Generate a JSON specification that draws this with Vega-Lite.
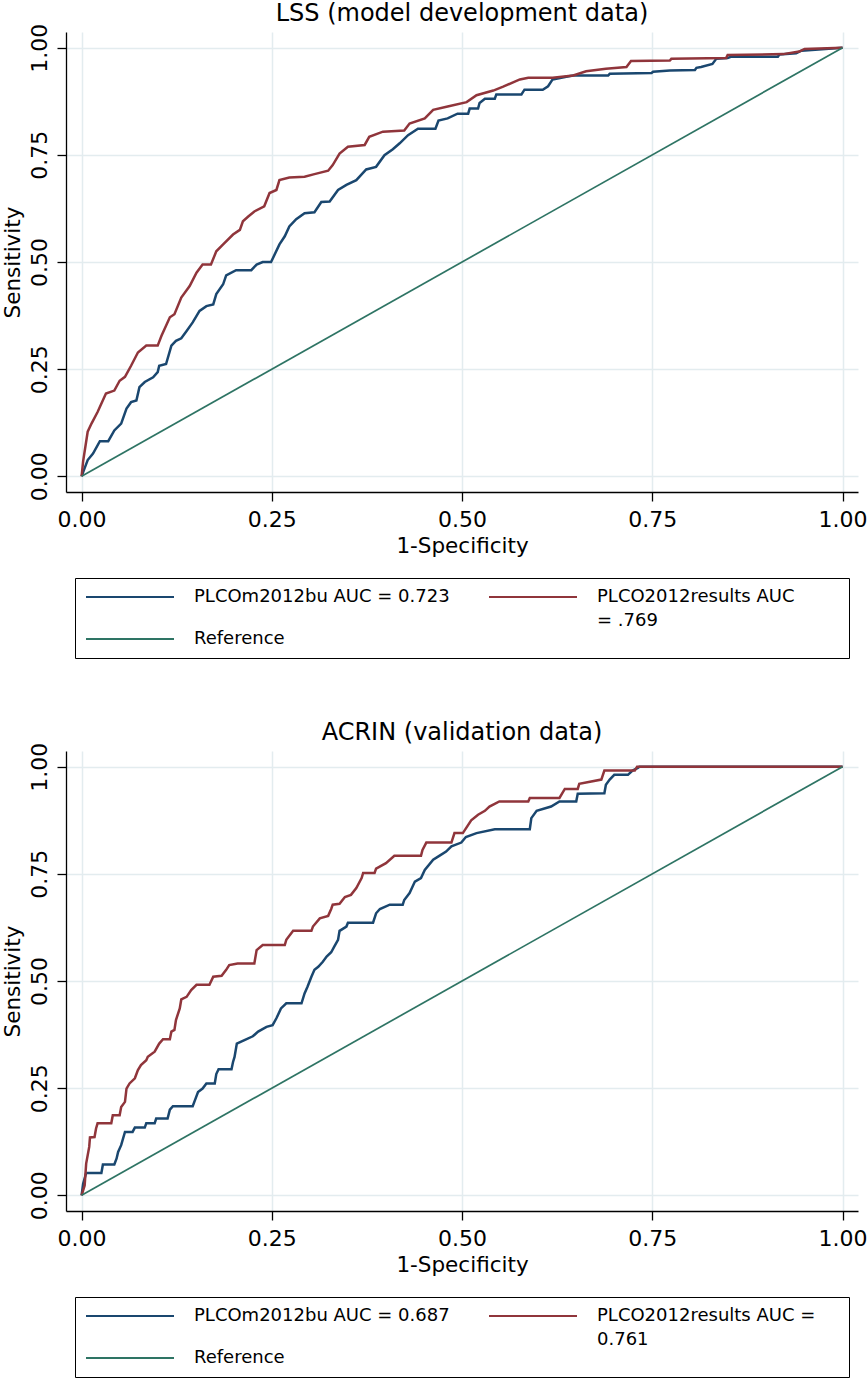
{
"$schema": "https://vega.github.io/schema/vega-lite/v6.json",
"padding": {"left": 2, "top": 2, "right": 5, "bottom": 0},
"spacing": 62,
"config": {
  "font": "DejaVu Sans",
  "view": {"stroke": null},
  "title": {"font": "DejaVu Sans", "fontSize": 24, "fontWeight": "normal", "color": "black", "anchor": "middle", "frame": "group", "offset": -3},
  "axis": {"labelFont": "DejaVu Sans", "labelFontSize": 22, "labelColor": "black", "titleFont": "DejaVu Sans", "titleFontSize": 21.5, "titleFontWeight": "normal", "titleColor": "black", "domainColor": "black", "domainWidth": 1.3, "tickColor": "black", "tickWidth": 1.3, "tickSize": 9, "gridColor": "#e3ecef", "gridWidth": 1.5, "labelPadding": 8, "titlePadding": 5},
  "axisY": {"labelAngle": -90, "labelAlign": "center", "labelBaseline": "bottom", "labelPadding": 6, "titlePadding": 4}
},
"resolve": {"scale": {"color": "independent"}, "legend": {"color": "independent"}},
"datasets": {
"lss": [
{"m":"PLCOm2012bu AUC = 0.723","x":0,"y":0},{"m":"PLCOm2012bu AUC = 0.723","x":0.004,"y":0.019},{"m":"PLCOm2012bu AUC = 0.723","x":0.008,"y":0.038},{"m":"PLCOm2012bu AUC = 0.723","x":0.015,"y":0.053},{"m":"PLCOm2012bu AUC = 0.723","x":0.024,"y":0.082},{"m":"PLCOm2012bu AUC = 0.723","x":0.035,"y":0.082},{"m":"PLCOm2012bu AUC = 0.723","x":0.043,"y":0.107},{"m":"PLCOm2012bu AUC = 0.723","x":0.052,"y":0.123},{"m":"PLCOm2012bu AUC = 0.723","x":0.059,"y":0.158},{"m":"PLCOm2012bu AUC = 0.723","x":0.065,"y":0.173},{"m":"PLCOm2012bu AUC = 0.723","x":0.072,"y":0.177},{"m":"PLCOm2012bu AUC = 0.723","x":0.076,"y":0.208},{"m":"PLCOm2012bu AUC = 0.723","x":0.083,"y":0.22},{"m":"PLCOm2012bu AUC = 0.723","x":0.094,"y":0.231},{"m":"PLCOm2012bu AUC = 0.723","x":0.1,"y":0.243},{"m":"PLCOm2012bu AUC = 0.723","x":0.102,"y":0.258},{"m":"PLCOm2012bu AUC = 0.723","x":0.111,"y":0.262},{"m":"PLCOm2012bu AUC = 0.723","x":0.118,"y":0.305},{"m":"PLCOm2012bu AUC = 0.723","x":0.124,"y":0.316},{"m":"PLCOm2012bu AUC = 0.723","x":0.131,"y":0.322},{"m":"PLCOm2012bu AUC = 0.723","x":0.138,"y":0.339},{"m":"PLCOm2012bu AUC = 0.723","x":0.146,"y":0.359},{"m":"PLCOm2012bu AUC = 0.723","x":0.155,"y":0.386},{"m":"PLCOm2012bu AUC = 0.723","x":0.164,"y":0.397},{"m":"PLCOm2012bu AUC = 0.723","x":0.173,"y":0.401},{"m":"PLCOm2012bu AUC = 0.723","x":0.177,"y":0.425},{"m":"PLCOm2012bu AUC = 0.723","x":0.186,"y":0.448},{"m":"PLCOm2012bu AUC = 0.723","x":0.19,"y":0.469},{"m":"PLCOm2012bu AUC = 0.723","x":0.203,"y":0.481},{"m":"PLCOm2012bu AUC = 0.723","x":0.223,"y":0.481},{"m":"PLCOm2012bu AUC = 0.723","x":0.23,"y":0.494},{"m":"PLCOm2012bu AUC = 0.723","x":0.238,"y":0.5},{"m":"PLCOm2012bu AUC = 0.723","x":0.249,"y":0.5},{"m":"PLCOm2012bu AUC = 0.723","x":0.26,"y":0.541},{"m":"PLCOm2012bu AUC = 0.723","x":0.267,"y":0.56},{"m":"PLCOm2012bu AUC = 0.723","x":0.273,"y":0.583},{"m":"PLCOm2012bu AUC = 0.723","x":0.282,"y":0.6},{"m":"PLCOm2012bu AUC = 0.723","x":0.293,"y":0.614},{"m":"PLCOm2012bu AUC = 0.723","x":0.306,"y":0.616},{"m":"PLCOm2012bu AUC = 0.723","x":0.315,"y":0.64},{"m":"PLCOm2012bu AUC = 0.723","x":0.326,"y":0.641},{"m":"PLCOm2012bu AUC = 0.723","x":0.337,"y":0.668},{"m":"PLCOm2012bu AUC = 0.723","x":0.348,"y":0.68},{"m":"PLCOm2012bu AUC = 0.723","x":0.361,"y":0.691},{"m":"PLCOm2012bu AUC = 0.723","x":0.374,"y":0.716},{"m":"PLCOm2012bu AUC = 0.723","x":0.387,"y":0.722},{"m":"PLCOm2012bu AUC = 0.723","x":0.398,"y":0.749},{"m":"PLCOm2012bu AUC = 0.723","x":0.409,"y":0.763},{"m":"PLCOm2012bu AUC = 0.723","x":0.418,"y":0.777},{"m":"PLCOm2012bu AUC = 0.723","x":0.429,"y":0.796},{"m":"PLCOm2012bu AUC = 0.723","x":0.442,"y":0.811},{"m":"PLCOm2012bu AUC = 0.723","x":0.465,"y":0.811},{"m":"PLCOm2012bu AUC = 0.723","x":0.469,"y":0.83},{"m":"PLCOm2012bu AUC = 0.723","x":0.481,"y":0.835},{"m":"PLCOm2012bu AUC = 0.723","x":0.494,"y":0.846},{"m":"PLCOm2012bu AUC = 0.723","x":0.508,"y":0.846},{"m":"PLCOm2012bu AUC = 0.723","x":0.51,"y":0.858},{"m":"PLCOm2012bu AUC = 0.723","x":0.521,"y":0.858},{"m":"PLCOm2012bu AUC = 0.723","x":0.523,"y":0.871},{"m":"PLCOm2012bu AUC = 0.723","x":0.53,"y":0.881},{"m":"PLCOm2012bu AUC = 0.723","x":0.543,"y":0.881},{"m":"PLCOm2012bu AUC = 0.723","x":0.545,"y":0.891},{"m":"PLCOm2012bu AUC = 0.723","x":0.578,"y":0.891},{"m":"PLCOm2012bu AUC = 0.723","x":0.582,"y":0.902},{"m":"PLCOm2012bu AUC = 0.723","x":0.606,"y":0.902},{"m":"PLCOm2012bu AUC = 0.723","x":0.613,"y":0.91},{"m":"PLCOm2012bu AUC = 0.723","x":0.619,"y":0.926},{"m":"PLCOm2012bu AUC = 0.723","x":0.637,"y":0.932},{"m":"PLCOm2012bu AUC = 0.723","x":0.646,"y":0.935},{"m":"PLCOm2012bu AUC = 0.723","x":0.692,"y":0.935},{"m":"PLCOm2012bu AUC = 0.723","x":0.694,"y":0.939},{"m":"PLCOm2012bu AUC = 0.723","x":0.749,"y":0.941},{"m":"PLCOm2012bu AUC = 0.723","x":0.751,"y":0.944},{"m":"PLCOm2012bu AUC = 0.723","x":0.773,"y":0.947},{"m":"PLCOm2012bu AUC = 0.723","x":0.806,"y":0.948},{"m":"PLCOm2012bu AUC = 0.723","x":0.808,"y":0.953},{"m":"PLCOm2012bu AUC = 0.723","x":0.814,"y":0.955},{"m":"PLCOm2012bu AUC = 0.723","x":0.829,"y":0.962},{"m":"PLCOm2012bu AUC = 0.723","x":0.834,"y":0.974},{"m":"PLCOm2012bu AUC = 0.723","x":0.849,"y":0.976},{"m":"PLCOm2012bu AUC = 0.723","x":0.854,"y":0.979},{"m":"PLCOm2012bu AUC = 0.723","x":0.915,"y":0.979},{"m":"PLCOm2012bu AUC = 0.723","x":0.917,"y":0.984},{"m":"PLCOm2012bu AUC = 0.723","x":0.939,"y":0.987},{"m":"PLCOm2012bu AUC = 0.723","x":0.946,"y":0.993},{"m":"PLCOm2012bu AUC = 0.723","x":1,"y":1},
{"m":"PLCO2012results AUC = .769","x":0,"y":0},{"m":"PLCO2012results AUC = .769","x":0.002,"y":0.035},{"m":"PLCO2012results AUC = .769","x":0.008,"y":0.104},{"m":"PLCO2012results AUC = .769","x":0.013,"y":0.123},{"m":"PLCO2012results AUC = .769","x":0.021,"y":0.15},{"m":"PLCO2012results AUC = .769","x":0.032,"y":0.193},{"m":"PLCO2012results AUC = .769","x":0.043,"y":0.2},{"m":"PLCO2012results AUC = .769","x":0.05,"y":0.223},{"m":"PLCO2012results AUC = .769","x":0.057,"y":0.232},{"m":"PLCO2012results AUC = .769","x":0.065,"y":0.258},{"m":"PLCO2012results AUC = .769","x":0.074,"y":0.289},{"m":"PLCO2012results AUC = .769","x":0.085,"y":0.305},{"m":"PLCO2012results AUC = .769","x":0.1,"y":0.305},{"m":"PLCO2012results AUC = .769","x":0.105,"y":0.328},{"m":"PLCO2012results AUC = .769","x":0.116,"y":0.371},{"m":"PLCO2012results AUC = .769","x":0.122,"y":0.378},{"m":"PLCO2012results AUC = .769","x":0.131,"y":0.417},{"m":"PLCO2012results AUC = .769","x":0.142,"y":0.444},{"m":"PLCO2012results AUC = .769","x":0.151,"y":0.475},{"m":"PLCO2012results AUC = .769","x":0.159,"y":0.494},{"m":"PLCO2012results AUC = .769","x":0.17,"y":0.494},{"m":"PLCO2012results AUC = .769","x":0.177,"y":0.525},{"m":"PLCO2012results AUC = .769","x":0.186,"y":0.541},{"m":"PLCO2012results AUC = .769","x":0.199,"y":0.564},{"m":"PLCO2012results AUC = .769","x":0.208,"y":0.575},{"m":"PLCO2012results AUC = .769","x":0.212,"y":0.595},{"m":"PLCO2012results AUC = .769","x":0.219,"y":0.606},{"m":"PLCO2012results AUC = .769","x":0.227,"y":0.618},{"m":"PLCO2012results AUC = .769","x":0.24,"y":0.63},{"m":"PLCO2012results AUC = .769","x":0.247,"y":0.661},{"m":"PLCO2012results AUC = .769","x":0.256,"y":0.668},{"m":"PLCO2012results AUC = .769","x":0.26,"y":0.691},{"m":"PLCO2012results AUC = .769","x":0.273,"y":0.697},{"m":"PLCO2012results AUC = .769","x":0.293,"y":0.699},{"m":"PLCO2012results AUC = .769","x":0.306,"y":0.705},{"m":"PLCO2012results AUC = .769","x":0.324,"y":0.713},{"m":"PLCO2012results AUC = .769","x":0.33,"y":0.726},{"m":"PLCO2012results AUC = .769","x":0.339,"y":0.753},{"m":"PLCO2012results AUC = .769","x":0.35,"y":0.769},{"m":"PLCO2012results AUC = .769","x":0.372,"y":0.773},{"m":"PLCO2012results AUC = .769","x":0.378,"y":0.792},{"m":"PLCO2012results AUC = .769","x":0.396,"y":0.804},{"m":"PLCO2012results AUC = .769","x":0.424,"y":0.807},{"m":"PLCO2012results AUC = .769","x":0.431,"y":0.823},{"m":"PLCO2012results AUC = .769","x":0.451,"y":0.835},{"m":"PLCO2012results AUC = .769","x":0.462,"y":0.855},{"m":"PLCO2012results AUC = .769","x":0.481,"y":0.863},{"m":"PLCO2012results AUC = .769","x":0.506,"y":0.873},{"m":"PLCO2012results AUC = .769","x":0.519,"y":0.889},{"m":"PLCO2012results AUC = .769","x":0.541,"y":0.9},{"m":"PLCO2012results AUC = .769","x":0.554,"y":0.909},{"m":"PLCO2012results AUC = .769","x":0.567,"y":0.919},{"m":"PLCO2012results AUC = .769","x":0.576,"y":0.926},{"m":"PLCO2012results AUC = .769","x":0.587,"y":0.93},{"m":"PLCO2012results AUC = .769","x":0.619,"y":0.93},{"m":"PLCO2012results AUC = .769","x":0.646,"y":0.935},{"m":"PLCO2012results AUC = .769","x":0.663,"y":0.945},{"m":"PLCO2012results AUC = .769","x":0.689,"y":0.951},{"m":"PLCO2012results AUC = .769","x":0.716,"y":0.955},{"m":"PLCO2012results AUC = .769","x":0.722,"y":0.969},{"m":"PLCO2012results AUC = .769","x":0.773,"y":0.97},{"m":"PLCO2012results AUC = .769","x":0.775,"y":0.974},{"m":"PLCO2012results AUC = .769","x":0.847,"y":0.976},{"m":"PLCO2012results AUC = .769","x":0.849,"y":0.983},{"m":"PLCO2012results AUC = .769","x":0.922,"y":0.985},{"m":"PLCO2012results AUC = .769","x":0.943,"y":0.991},{"m":"PLCO2012results AUC = .769","x":0.95,"y":0.997},{"m":"PLCO2012results AUC = .769","x":1,"y":1},
{"m":"Reference","x":0,"y":0},{"m":"Reference","x":1,"y":1}
],
"acrin": [
{"m":"PLCOm2012bu AUC = 0.687","x":0,"y":0},{"m":"PLCOm2012bu AUC = 0.687","x":0.002,"y":0.027},{"m":"PLCOm2012bu AUC = 0.687","x":0.006,"y":0.052},{"m":"PLCOm2012bu AUC = 0.687","x":0.026,"y":0.052},{"m":"PLCOm2012bu AUC = 0.687","x":0.028,"y":0.072},{"m":"PLCOm2012bu AUC = 0.687","x":0.043,"y":0.072},{"m":"PLCOm2012bu AUC = 0.687","x":0.046,"y":0.086},{"m":"PLCOm2012bu AUC = 0.687","x":0.048,"y":0.101},{"m":"PLCOm2012bu AUC = 0.687","x":0.052,"y":0.117},{"m":"PLCOm2012bu AUC = 0.687","x":0.057,"y":0.148},{"m":"PLCOm2012bu AUC = 0.687","x":0.067,"y":0.148},{"m":"PLCOm2012bu AUC = 0.687","x":0.07,"y":0.158},{"m":"PLCOm2012bu AUC = 0.687","x":0.083,"y":0.158},{"m":"PLCOm2012bu AUC = 0.687","x":0.085,"y":0.168},{"m":"PLCOm2012bu AUC = 0.687","x":0.096,"y":0.168},{"m":"PLCOm2012bu AUC = 0.687","x":0.098,"y":0.179},{"m":"PLCOm2012bu AUC = 0.687","x":0.113,"y":0.179},{"m":"PLCOm2012bu AUC = 0.687","x":0.116,"y":0.2},{"m":"PLCOm2012bu AUC = 0.687","x":0.12,"y":0.208},{"m":"PLCOm2012bu AUC = 0.687","x":0.146,"y":0.208},{"m":"PLCOm2012bu AUC = 0.687","x":0.149,"y":0.222},{"m":"PLCOm2012bu AUC = 0.687","x":0.153,"y":0.241},{"m":"PLCOm2012bu AUC = 0.687","x":0.159,"y":0.249},{"m":"PLCOm2012bu AUC = 0.687","x":0.164,"y":0.261},{"m":"PLCOm2012bu AUC = 0.687","x":0.175,"y":0.261},{"m":"PLCOm2012bu AUC = 0.687","x":0.177,"y":0.283},{"m":"PLCOm2012bu AUC = 0.687","x":0.18,"y":0.294},{"m":"PLCOm2012bu AUC = 0.687","x":0.197,"y":0.294},{"m":"PLCOm2012bu AUC = 0.687","x":0.199,"y":0.311},{"m":"PLCOm2012bu AUC = 0.687","x":0.201,"y":0.323},{"m":"PLCOm2012bu AUC = 0.687","x":0.204,"y":0.354},{"m":"PLCOm2012bu AUC = 0.687","x":0.214,"y":0.362},{"m":"PLCOm2012bu AUC = 0.687","x":0.225,"y":0.371},{"m":"PLCOm2012bu AUC = 0.687","x":0.232,"y":0.382},{"m":"PLCOm2012bu AUC = 0.687","x":0.243,"y":0.393},{"m":"PLCOm2012bu AUC = 0.687","x":0.251,"y":0.397},{"m":"PLCOm2012bu AUC = 0.687","x":0.256,"y":0.413},{"m":"PLCOm2012bu AUC = 0.687","x":0.262,"y":0.436},{"m":"PLCOm2012bu AUC = 0.687","x":0.269,"y":0.448},{"m":"PLCOm2012bu AUC = 0.687","x":0.289,"y":0.448},{"m":"PLCOm2012bu AUC = 0.687","x":0.293,"y":0.471},{"m":"PLCOm2012bu AUC = 0.687","x":0.297,"y":0.487},{"m":"PLCOm2012bu AUC = 0.687","x":0.302,"y":0.51},{"m":"PLCOm2012bu AUC = 0.687","x":0.306,"y":0.526},{"m":"PLCOm2012bu AUC = 0.687","x":0.311,"y":0.533},{"m":"PLCOm2012bu AUC = 0.687","x":0.317,"y":0.545},{"m":"PLCOm2012bu AUC = 0.687","x":0.322,"y":0.557},{"m":"PLCOm2012bu AUC = 0.687","x":0.328,"y":0.567},{"m":"PLCOm2012bu AUC = 0.687","x":0.332,"y":0.58},{"m":"PLCOm2012bu AUC = 0.687","x":0.337,"y":0.596},{"m":"PLCOm2012bu AUC = 0.687","x":0.339,"y":0.617},{"m":"PLCOm2012bu AUC = 0.687","x":0.348,"y":0.627},{"m":"PLCOm2012bu AUC = 0.687","x":0.35,"y":0.636},{"m":"PLCOm2012bu AUC = 0.687","x":0.383,"y":0.636},{"m":"PLCOm2012bu AUC = 0.687","x":0.387,"y":0.658},{"m":"PLCOm2012bu AUC = 0.687","x":0.392,"y":0.668},{"m":"PLCOm2012bu AUC = 0.687","x":0.405,"y":0.678},{"m":"PLCOm2012bu AUC = 0.687","x":0.422,"y":0.678},{"m":"PLCOm2012bu AUC = 0.687","x":0.424,"y":0.689},{"m":"PLCOm2012bu AUC = 0.687","x":0.431,"y":0.705},{"m":"PLCOm2012bu AUC = 0.687","x":0.438,"y":0.732},{"m":"PLCOm2012bu AUC = 0.687","x":0.446,"y":0.74},{"m":"PLCOm2012bu AUC = 0.687","x":0.451,"y":0.759},{"m":"PLCOm2012bu AUC = 0.687","x":0.462,"y":0.783},{"m":"PLCOm2012bu AUC = 0.687","x":0.47,"y":0.792},{"m":"PLCOm2012bu AUC = 0.687","x":0.479,"y":0.802},{"m":"PLCOm2012bu AUC = 0.687","x":0.486,"y":0.814},{"m":"PLCOm2012bu AUC = 0.687","x":0.499,"y":0.823},{"m":"PLCOm2012bu AUC = 0.687","x":0.505,"y":0.836},{"m":"PLCOm2012bu AUC = 0.687","x":0.519,"y":0.845},{"m":"PLCOm2012bu AUC = 0.687","x":0.543,"y":0.854},{"m":"PLCOm2012bu AUC = 0.687","x":0.589,"y":0.854},{"m":"PLCOm2012bu AUC = 0.687","x":0.591,"y":0.88},{"m":"PLCOm2012bu AUC = 0.687","x":0.598,"y":0.897},{"m":"PLCOm2012bu AUC = 0.687","x":0.617,"y":0.907},{"m":"PLCOm2012bu AUC = 0.687","x":0.628,"y":0.919},{"m":"PLCOm2012bu AUC = 0.687","x":0.65,"y":0.919},{"m":"PLCOm2012bu AUC = 0.687","x":0.652,"y":0.937},{"m":"PLCOm2012bu AUC = 0.687","x":0.687,"y":0.938},{"m":"PLCOm2012bu AUC = 0.687","x":0.689,"y":0.958},{"m":"PLCOm2012bu AUC = 0.687","x":0.694,"y":0.97},{"m":"PLCOm2012bu AUC = 0.687","x":0.7,"y":0.981},{"m":"PLCOm2012bu AUC = 0.687","x":0.718,"y":0.981},{"m":"PLCOm2012bu AUC = 0.687","x":0.724,"y":0.991},{"m":"PLCOm2012bu AUC = 0.687","x":0.731,"y":0.997},{"m":"PLCOm2012bu AUC = 0.687","x":0.733,"y":1},{"m":"PLCOm2012bu AUC = 0.687","x":1,"y":1},
{"m":"PLCO2012results AUC = 0.761","x":0,"y":0},{"m":"PLCO2012results AUC = 0.761","x":0.004,"y":0.023},{"m":"PLCO2012results AUC = 0.761","x":0.006,"y":0.074},{"m":"PLCO2012results AUC = 0.761","x":0.01,"y":0.113},{"m":"PLCO2012results AUC = 0.761","x":0.011,"y":0.135},{"m":"PLCO2012results AUC = 0.761","x":0.017,"y":0.136},{"m":"PLCO2012results AUC = 0.761","x":0.019,"y":0.156},{"m":"PLCO2012results AUC = 0.761","x":0.021,"y":0.168},{"m":"PLCO2012results AUC = 0.761","x":0.039,"y":0.168},{"m":"PLCO2012results AUC = 0.761","x":0.041,"y":0.187},{"m":"PLCO2012results AUC = 0.761","x":0.05,"y":0.187},{"m":"PLCO2012results AUC = 0.761","x":0.052,"y":0.206},{"m":"PLCO2012results AUC = 0.761","x":0.057,"y":0.218},{"m":"PLCO2012results AUC = 0.761","x":0.059,"y":0.249},{"m":"PLCO2012results AUC = 0.761","x":0.063,"y":0.261},{"m":"PLCO2012results AUC = 0.761","x":0.07,"y":0.273},{"m":"PLCO2012results AUC = 0.761","x":0.074,"y":0.292},{"m":"PLCO2012results AUC = 0.761","x":0.078,"y":0.304},{"m":"PLCO2012results AUC = 0.761","x":0.085,"y":0.315},{"m":"PLCO2012results AUC = 0.761","x":0.087,"y":0.323},{"m":"PLCO2012results AUC = 0.761","x":0.096,"y":0.335},{"m":"PLCO2012results AUC = 0.761","x":0.102,"y":0.354},{"m":"PLCO2012results AUC = 0.761","x":0.107,"y":0.364},{"m":"PLCO2012results AUC = 0.761","x":0.116,"y":0.364},{"m":"PLCO2012results AUC = 0.761","x":0.118,"y":0.382},{"m":"PLCO2012results AUC = 0.761","x":0.122,"y":0.386},{"m":"PLCO2012results AUC = 0.761","x":0.124,"y":0.409},{"m":"PLCO2012results AUC = 0.761","x":0.129,"y":0.436},{"m":"PLCO2012results AUC = 0.761","x":0.131,"y":0.457},{"m":"PLCO2012results AUC = 0.761","x":0.138,"y":0.463},{"m":"PLCO2012results AUC = 0.761","x":0.144,"y":0.479},{"m":"PLCO2012results AUC = 0.761","x":0.151,"y":0.491},{"m":"PLCO2012results AUC = 0.761","x":0.168,"y":0.491},{"m":"PLCO2012results AUC = 0.761","x":0.173,"y":0.51},{"m":"PLCO2012results AUC = 0.761","x":0.184,"y":0.512},{"m":"PLCO2012results AUC = 0.761","x":0.19,"y":0.526},{"m":"PLCO2012results AUC = 0.761","x":0.194,"y":0.537},{"m":"PLCO2012results AUC = 0.761","x":0.205,"y":0.541},{"m":"PLCO2012results AUC = 0.761","x":0.227,"y":0.541},{"m":"PLCO2012results AUC = 0.761","x":0.23,"y":0.572},{"m":"PLCO2012results AUC = 0.761","x":0.238,"y":0.584},{"m":"PLCO2012results AUC = 0.761","x":0.267,"y":0.584},{"m":"PLCO2012results AUC = 0.761","x":0.269,"y":0.596},{"m":"PLCO2012results AUC = 0.761","x":0.278,"y":0.617},{"m":"PLCO2012results AUC = 0.761","x":0.302,"y":0.617},{"m":"PLCO2012results AUC = 0.761","x":0.304,"y":0.627},{"m":"PLCO2012results AUC = 0.761","x":0.313,"y":0.646},{"m":"PLCO2012results AUC = 0.761","x":0.324,"y":0.652},{"m":"PLCO2012results AUC = 0.761","x":0.328,"y":0.668},{"m":"PLCO2012results AUC = 0.761","x":0.33,"y":0.678},{"m":"PLCO2012results AUC = 0.761","x":0.339,"y":0.68},{"m":"PLCO2012results AUC = 0.761","x":0.346,"y":0.696},{"m":"PLCO2012results AUC = 0.761","x":0.354,"y":0.701},{"m":"PLCO2012results AUC = 0.761","x":0.361,"y":0.717},{"m":"PLCO2012results AUC = 0.761","x":0.368,"y":0.74},{"m":"PLCO2012results AUC = 0.761","x":0.37,"y":0.752},{"m":"PLCO2012results AUC = 0.761","x":0.385,"y":0.752},{"m":"PLCO2012results AUC = 0.761","x":0.387,"y":0.762},{"m":"PLCO2012results AUC = 0.761","x":0.4,"y":0.775},{"m":"PLCO2012results AUC = 0.761","x":0.411,"y":0.792},{"m":"PLCO2012results AUC = 0.761","x":0.446,"y":0.792},{"m":"PLCO2012results AUC = 0.761","x":0.448,"y":0.806},{"m":"PLCO2012results AUC = 0.761","x":0.453,"y":0.823},{"m":"PLCO2012results AUC = 0.761","x":0.486,"y":0.823},{"m":"PLCO2012results AUC = 0.761","x":0.49,"y":0.845},{"m":"PLCO2012results AUC = 0.761","x":0.501,"y":0.845},{"m":"PLCO2012results AUC = 0.761","x":0.512,"y":0.875},{"m":"PLCO2012results AUC = 0.761","x":0.521,"y":0.888},{"m":"PLCO2012results AUC = 0.761","x":0.53,"y":0.897},{"m":"PLCO2012results AUC = 0.761","x":0.536,"y":0.907},{"m":"PLCO2012results AUC = 0.761","x":0.549,"y":0.919},{"m":"PLCO2012results AUC = 0.761","x":0.587,"y":0.919},{"m":"PLCO2012results AUC = 0.761","x":0.589,"y":0.927},{"m":"PLCO2012results AUC = 0.761","x":0.628,"y":0.927},{"m":"PLCO2012results AUC = 0.761","x":0.635,"y":0.948},{"m":"PLCO2012results AUC = 0.761","x":0.652,"y":0.948},{"m":"PLCO2012results AUC = 0.761","x":0.654,"y":0.96},{"m":"PLCO2012results AUC = 0.761","x":0.683,"y":0.97},{"m":"PLCO2012results AUC = 0.761","x":0.687,"y":0.991},{"m":"PLCO2012results AUC = 0.761","x":0.727,"y":0.991},{"m":"PLCO2012results AUC = 0.761","x":0.73,"y":1},{"m":"PLCO2012results AUC = 0.761","x":1,"y":1},
{"m":"Reference","x":0,"y":0},{"m":"Reference","x":1,"y":1}
]
},
"vconcat": [
{
  "width": 792, "height": 460,
  "title": {"text": "LSS (model development data)"},
  "data": {"name": "lss"},
  "mark": {"type": "line"},
  "encoding": {
    "x": {"field": "x", "type": "quantitative", "scale": {"domain": [-0.0205, 1.0203], "nice": false, "zero": false}, "axis": {"values": [0, 0.25, 0.5, 0.75, 1], "format": ".2f", "title": "1-Specificity"}},
    "y": {"field": "y", "type": "quantitative", "scale": {"domain": [-0.0366, 1.0366], "nice": false, "zero": false}, "axis": {"values": [0, 0.25, 0.5, 0.75, 1], "format": ".2f", "title": "Sensitivity"}},
    "color": {"field": "m", "type": "nominal", "sort": null, "scale": {"domain": ["PLCOm2012bu AUC = 0.723", "PLCO2012results AUC = .769", "Reference"], "range": ["#1a476f", "#90353b", "#2e7464"]},
      "legend": {"title": null, "orient": "none", "legendX": 9, "legendY": 546, "direction": "horizontal", "columns": 2, "symbolType": "stroke", "symbolSize": 7744, "symbolStrokeWidth": 2, "labelFont": "DejaVu Sans", "labelFontSize": 18, "labelColor": "black", "labelOffset": 19, "labelLimit": 0, "columnPadding": 38, "rowPadding": 0, "gridAlign": "all", "padding": 10, "strokeColor": "black", "fillColor": "white", "clipHeight": 18, "labelBaseline": "top",
        "labelExpr": "datum.label == 'PLCO2012results AUC = .769' ? ['PLCO2012results AUC', '= .769'] : datum.label == 'Reference' ? datum.label : [datum.label, '']",
        "encode": {"labels": {"update": {"dy": {"value": -9}, "lineHeight": {"value": 24}}}, "entries": {"enter": {"width": {"value": 351}, "noBound": {"value": false}}, "update": {"width": {"value": 351}, "noBound": {"value": false}}}}}},
    "strokeWidth": {"condition": {"test": "datum.m == 'Reference'", "value": 1.7}, "value": 2.5},
    "order": [{"field": "x"}, {"field": "y"}]
  }
},
{
  "width": 792, "height": 460,
  "title": {"text": "ACRIN (validation data)"},
  "data": {"name": "acrin"},
  "mark": {"type": "line"},
  "encoding": {
    "x": {"field": "x", "type": "quantitative", "scale": {"domain": [-0.0205, 1.0203], "nice": false, "zero": false}, "axis": {"values": [0, 0.25, 0.5, 0.75, 1], "format": ".2f", "title": "1-Specificity"}},
    "y": {"field": "y", "type": "quantitative", "scale": {"domain": [-0.0366, 1.0366], "nice": false, "zero": false}, "axis": {"values": [0, 0.25, 0.5, 0.75, 1], "format": ".2f", "title": "Sensitivity"}},
    "color": {"field": "m", "type": "nominal", "sort": null, "scale": {"domain": ["PLCOm2012bu AUC = 0.687", "PLCO2012results AUC = 0.761", "Reference"], "range": ["#1a476f", "#90353b", "#2e7464"]},
      "legend": {"title": null, "orient": "none", "legendX": 9, "legendY": 546, "direction": "horizontal", "columns": 2, "symbolType": "stroke", "symbolSize": 7744, "symbolStrokeWidth": 2, "labelFont": "DejaVu Sans", "labelFontSize": 18, "labelColor": "black", "labelOffset": 19, "labelLimit": 0, "columnPadding": 38, "rowPadding": 0, "gridAlign": "all", "padding": 10, "strokeColor": "black", "fillColor": "white", "clipHeight": 18, "labelBaseline": "top",
        "labelExpr": "datum.label == 'PLCO2012results AUC = 0.761' ? ['PLCO2012results AUC =', '0.761'] : datum.label == 'Reference' ? datum.label : [datum.label, '']",
        "encode": {"labels": {"update": {"dy": {"value": -9}, "lineHeight": {"value": 24}}}, "entries": {"enter": {"width": {"value": 351}, "noBound": {"value": false}}, "update": {"width": {"value": 351}, "noBound": {"value": false}}}}}},
    "strokeWidth": {"condition": {"test": "datum.m == 'Reference'", "value": 1.7}, "value": 2.5},
    "order": [{"field": "x"}, {"field": "y"}]
  }
}
]
}
